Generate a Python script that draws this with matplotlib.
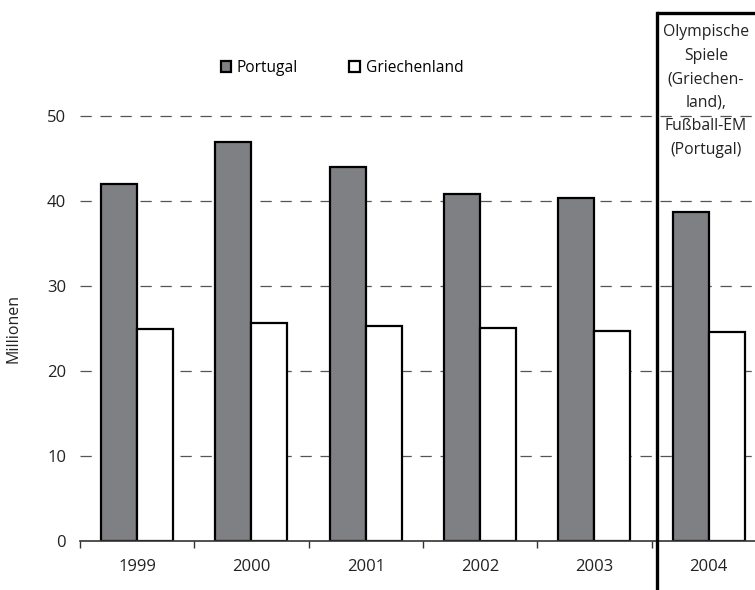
import matplotlib
matplotlib.use("Agg")
import matplotlib.pyplot as plt
import numpy as np

plt.rcParams["font.family"] = ["Open Sans", "DejaVu Sans"]

# Data (Millionen)
years = ["1999", "2000", "2001", "2002", "2003", "2004"]
portugal = [42.0, 47.0, 44.0, 40.8, 40.3, 38.7]
griechenland = [25.0, 25.7, 25.3, 25.1, 24.7, 24.55]

x = np.arange(len(years))
w = 0.315

fig = plt.figure(figsize=(7.55, 5.9), dpi=100)
ax = fig.add_axes([80 / 755, 1 - 541 / 590, 675 / 755, 425 / 590])

ax.bar(x - w / 2, portugal, w, color="#7f8084", edgecolor="black", linewidth=1.6, label="Portugal", zorder=3)
ax.bar(x + w / 2, griechenland, w, color="white", edgecolor="black", linewidth=1.6, label="Griechenland", zorder=3)

ax.set_xlim(-0.5, 5.405)
ax.set_ylim(0, 50)
ax.set_yticks([0, 10, 20, 30, 40, 50])
ax.set_xticks(x)
ax.set_xticklabels(years)
ax.set_xticks(np.arange(-0.5, 5.5, 1), minor=True)
ax.tick_params(axis="x", which="major", length=0, pad=13, labelsize=12, labelcolor="#222222")
ax.tick_params(axis="x", which="minor", length=5, width=1, color="#333333", direction="out")
ax.tick_params(axis="y", length=0, pad=10, labelsize=12, labelcolor="#222222")

for v in [10, 20, 30, 40, 50]:
    ax.axhline(v, color="#555555", linewidth=0.9, dashes=(9, 7), zorder=1, clip_on=False)

for s in ["top", "right", "left"]:
    ax.spines[s].set_visible(False)
ax.spines["bottom"].set_color("#333333")
ax.spines["bottom"].set_linewidth(1.2)
ax.spines["bottom"].set_zorder(4)

ax.set_ylabel("Millionen", fontsize=11.5, color="#222222", labelpad=18)

ax.legend(loc="center", bbox_to_anchor=((342 - 80) / 675, (541 - 68) / 425), ncol=2, frameon=False,
          handlelength=0.7, handleheight=0.7, handletextpad=0.35, columnspacing=3.3, fontsize=11.2)

# event marker for 2004
xl = 4.545
ax.axvline(xl, ymin=(541 - 590) / 425, ymax=(541 - 13) / 425, color="black", linewidth=2.4, clip_on=False, zorder=5)
ax.plot([(657 - 80) / 675, 1.0], [(541 - 13) / 425] * 2, transform=ax.transAxes, color="black",
        linewidth=2.4, clip_on=False, zorder=5, solid_capstyle="butt")

fig.text(706 / 755, 1 - 91 / 590,
         "Olympische\nSpiele\n(Griechen-\nland),\nFußball-EM\n(Portugal)",
         ha="center", va="center", fontsize=11.3, linespacing=1.62, color="#222222")

fig.savefig("out.png", dpi=100)
